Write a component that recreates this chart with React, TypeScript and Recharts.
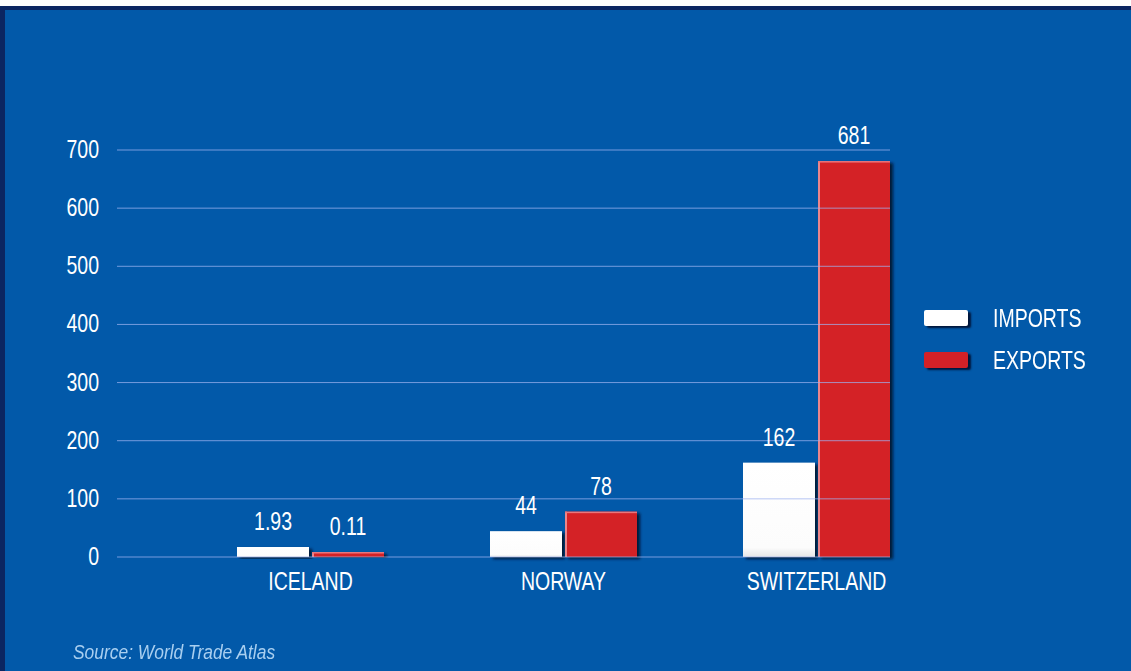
import { BarChart, Bar, XAxis, YAxis, ReferenceLine, LabelList } from "recharts";

// Trade with EFTA countries: imports vs exports, with a source note under the plot.

const COUNTRIES = ["ICELAND", "NORWAY", "SWITZERLAND"];
const IMPORTS = [1.93, 44, 162];
const EXPORTS = [0.11, 78, 681];
const Y_TICKS = [0, 100, 200, 300, 400, 500, 600, 700];

const BG = "#0259a9";
const FRAME = "#0b2662";
const RED = "#d42128";
const FONT = "'Liberation Sans', Arial, sans-serif";
const FS = 25;
const SX = 0.78; // squeeze Liberation Sans to look like a narrow face

const data = COUNTRIES.map((name, i) => ({ name, imports: IMPORTS[i], exports: EXPORTS[i] }));

function NarrowText({ x, y, anchor, children }: any) {
  return (
    <g transform={`translate(${x},${y})`}>
      <text transform={`scale(${SX},1)`} textAnchor={anchor} fill="#ffffff" fontSize={FS} fontFamily={FONT}>
        {children}
      </text>
    </g>
  );
}

const YTick = (p: any) => (
  <NarrowText x={p.x} y={p.y + 8} anchor="end">
    {p.payload.value}
  </NarrowText>
);

const XTick = (p: any) => (
  <NarrowText x={p.x} y={p.y + 33} anchor="middle">
    {p.payload.value}
  </NarrowText>
);

const ValueLabel = (p: any) => (
  <NarrowText x={p.x + p.width / 2} y={p.y - 17} anchor="middle">
    {p.value}
  </NarrowText>
);

function ShadedBar(props: any) {
  const { x, y, width, height, kind } = props;
  if (!height || height <= 0) return null;
  const isRed = kind === "exports";
  return (
    <g filter="url(#barShadow)">
      <rect x={x} y={y} width={width} height={height} fill={isRed ? RED : "url(#whiteGrad)"} />
      {isRed && <rect x={x} y={y} width={2} height={height} fill="#f0a0a4" opacity={0.8} />}
      <rect x={x} y={y} width={width} height={1.5} fill={isRed ? "#e9777c" : "#ffffff"} />
    </g>
  );
}

function LegendBox() {
  const items = [
    { label: "IMPORTS", fill: "#ffffff" },
    { label: "EXPORTS", fill: RED },
  ];
  return (
    <div style={{ fontFamily: FONT }}>
      {items.map((it) => (
        <div key={it.label} style={{ display: "flex", alignItems: "center", height: 42 }}>
          <div
            style={{
              width: 44,
              height: 16,
              background: it.fill,
              borderRadius: 2,
              boxShadow: "3px 2px 2px rgba(0,10,40,0.85)",
            }}
          />
          <span
            style={{
              marginLeft: 25,
              color: "#ffffff",
              fontSize: FS,
              display: "inline-block",
              transform: `scaleX(${SX})`,
              transformOrigin: "left center",
              whiteSpace: "nowrap",
            }}
          >
            {it.label}
          </span>
        </div>
      ))}
    </div>
  );
}

export default function App() {
  return (
    <div style={{ position: "absolute", left: 0, top: 0, width: 1131, height: 671, background: "#ffffff" }}>
      <div
        style={{
          position: "absolute",
          left: 0,
          top: 6,
          width: 1131,
          height: 665,
          boxSizing: "border-box",
          background: BG,
          borderTop: `4px solid ${FRAME}`,
          borderLeft: `5px solid ${FRAME}`,
        }}
      />
      <div style={{ position: "absolute", left: 0, top: 0 }}>
        <BarChart
          width={1131}
          height={671}
          data={data}
          margin={{ top: 150, right: 241, bottom: 84, left: 67 }}
          barCategoryGap={53}
          barGap={3}
        >
          <defs>
            <linearGradient id="whiteGrad" x1="0" y1="0" x2="0" y2="1">
              <stop offset="0%" stopColor="#ffffff" />
              <stop offset="90%" stopColor="#fcfcfc" />
              <stop offset="100%" stopColor="#e6e6e6" />
            </linearGradient>
            <filter id="barShadow" x="-20%" y="-20%" width="140%" height="140%">
              <feDropShadow dx="3" dy="2" stdDeviation="1.5" floodColor="#000a28" floodOpacity="0.85" />
            </filter>
          </defs>
          <XAxis
            dataKey="name"
            axisLine={false}
            tickLine={false}
            tickSize={0}
            tickMargin={0}
            padding={{ left: 67, right: -53 }}
            tick={XTick}
          />
          <YAxis
            width={50}
            domain={[0, 700]}
            ticks={Y_TICKS}
            axisLine={false}
            tickLine={false}
            tickSize={0}
            tickMargin={18}
            tick={YTick}
          />
          <Bar
            dataKey="imports"
            fill="#ffffff"
            minPointSize={10}
            isAnimationActive={false}
            shape={(p: any) => <ShadedBar {...p} kind="imports" />}
          >
            <LabelList dataKey="imports" content={ValueLabel} />
          </Bar>
          <Bar
            dataKey="exports"
            fill={RED}
            minPointSize={5}
            isAnimationActive={false}
            shape={(p: any) => <ShadedBar {...p} kind="exports" />}
          >
            <LabelList dataKey="exports" content={ValueLabel} />
          </Bar>
          {Y_TICKS.map((t) => (
            <ReferenceLine key={t} y={t} stroke="#9db3f0" strokeOpacity={0.75} strokeWidth={1} />
          ))}
        </BarChart>
      </div>
      <div style={{ position: "absolute", left: 924, top: 297 }}>
        <LegendBox />
      </div>
      <div
        style={{
          position: "absolute",
          left: 73,
          top: 641,
          color: "#a9cff0",
          fontFamily: FONT,
          fontStyle: "italic",
          fontSize: 20,
          whiteSpace: "nowrap",
          transform: `scaleX(0.87)`,
          transformOrigin: "left center",
        }}
      >
        Source: World Trade Atlas
      </div>
    </div>
  );
}
